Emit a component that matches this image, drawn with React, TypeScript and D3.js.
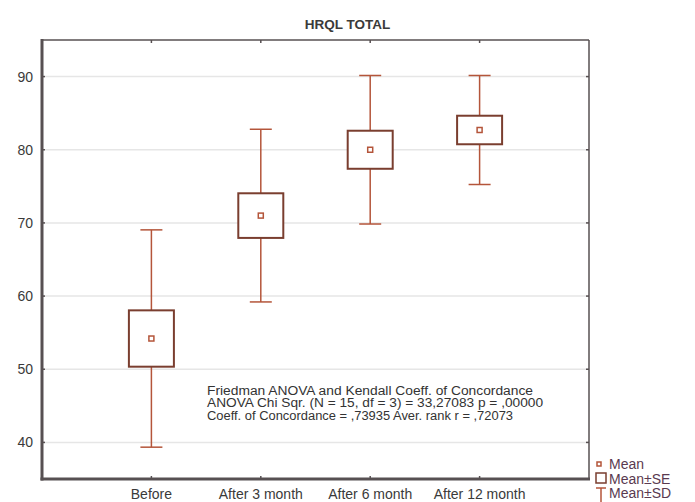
import React from "react";
import * as d3 from "d3";

// HRQL total score per follow-up point: mean, standard error and standard deviation
const categories = ["Before", "After 3 month", "After 6 month", "After 12 month"];
const means = [54.2, 71.0, 80.0, 82.7];
const standardErrors = [3.85, 3.05, 2.6, 1.95];
const standardDeviations = [14.85, 11.8, 10.15, 7.45];
const yTicks = [40, 50, 60, 70, 80, 90];

const statsLines = [
  "Friedman ANOVA and Kendall Coeff. of Concordance",
  "ANOVA Chi Sqr. (N = 15, df = 3) = 33,27083 p = ,00000",
  "Coeff. of Concordance = ,73935 Aver. rank r = ,72073",
];
const statsWidths = [326, 336, 306];
const legendItems = ["Mean", "Mean±SE", "Mean±SD"];

const W = 695;
const H = 502;
const plot = { left: 42, right: 589, top: 40, bottom: 479 };

const BOX = "#7a3e2f";
const WHISKER = "#b4553a";
const AXIS = "#575052";
const GRID = "#e6e6e6";
const FONT = "'Liberation Sans', Arial, sans-serif";

export default function App() {
  const x = d3.scaleLinear().domain([0, categories.length + 1]).range([plot.left, plot.right]);
  const y = d3.scaleLinear().domain([35, 95]).range([plot.bottom, plot.top]);

  const boxW = 45;
  const capW = 22;
  const meanSize = 5;

  return (
    <svg
      width={W}
      height={H}
      style={{ position: "absolute", left: 0, top: 0, background: "#fff" }}
      fontFamily={FONT}
    >
      {/* title */}
      <text x={347.5} y={29} textAnchor="middle" fontSize={13.5} fontWeight="bold" fill="#3a3a3a">
        HRQL TOTAL
      </text>

      {/* gridlines */}
      {yTicks.map((t) => (
        <line key={"g" + t} x1={plot.left} x2={plot.right} y1={y(t)} y2={y(t)} stroke={GRID} strokeWidth={1.5} />
      ))}

      {/* frame: thin top/right, heavy left/bottom axes */}
      <line x1={plot.left} x2={plot.right} y1={plot.top} y2={plot.top} stroke={AXIS} strokeWidth={1.5} />
      <line x1={plot.right} x2={plot.right} y1={plot.top} y2={plot.bottom} stroke={AXIS} strokeWidth={1.5} />
      <line x1={plot.left} x2={plot.left} y1={plot.top - 1} y2={plot.bottom + 1.5} stroke={AXIS} strokeWidth={3} />
      <line x1={plot.left - 1.5} x2={plot.right + 1} y1={plot.bottom} y2={plot.bottom} stroke={AXIS} strokeWidth={3} />

      {/* y ticks + labels */}
      {yTicks.map((t) => (
        <g key={"t" + t}>
          <line x1={plot.left} x2={plot.left + 3} y1={y(t)} y2={y(t)} stroke={AXIS} strokeWidth={1.5} />
          <line x1={plot.right} x2={plot.right - 3} y1={y(t)} y2={y(t)} stroke={AXIS} strokeWidth={1.5} />
          <text x={33} y={y(t)} dy="0.36em" textAnchor="end" fontSize={14} fill="#3a3a3a">
            {t}
          </text>
        </g>
      ))}

      {/* x ticks + labels */}
      {categories.map((c, i) => (
        <g key={"x" + c}>
          <line x1={x(i + 1)} x2={x(i + 1)} y1={plot.top} y2={plot.top + 3} stroke={AXIS} strokeWidth={1.5} />
          <line x1={x(i + 1)} x2={x(i + 1)} y1={plot.bottom} y2={plot.bottom - 3} stroke={AXIS} strokeWidth={1.5} />
          <text x={x(i + 1)} y={499} textAnchor="middle" fontSize={14} fill="#3a3a3a">
            {c}
          </text>
        </g>
      ))}

      {/* whiskers (mean ± SD) */}
      {means.map((m, i) => {
        const cx = x(i + 1);
        const hi = m + standardDeviations[i];
        const lo = m - standardDeviations[i];
        return (
          <g key={"w" + i} stroke={WHISKER} strokeWidth={1.5}>
            <line x1={cx} x2={cx} y1={y(hi)} y2={y(lo)} />
            <line x1={cx - capW / 2} x2={cx + capW / 2} y1={y(hi)} y2={y(hi)} />
            <line x1={cx - capW / 2} x2={cx + capW / 2} y1={y(lo)} y2={y(lo)} />
          </g>
        );
      })}

      {/* boxes (mean ± SE) */}
      {means.map((m, i) => {
        const cx = x(i + 1);
        const hi = m + standardErrors[i];
        const lo = m - standardErrors[i];
        return (
          <rect
            key={"b" + i}
            x={cx - boxW / 2}
            y={y(hi)}
            width={boxW}
            height={y(lo) - y(hi)}
            fill="#fff"
            stroke={BOX}
            strokeWidth={2}
          />
        );
      })}

      {/* mean markers */}
      {means.map((m, i) => (
        <rect
          key={"m" + i}
          x={x(i + 1) - meanSize / 2}
          y={y(m) - meanSize / 2}
          width={meanSize}
          height={meanSize}
          fill="#fff"
          stroke={WHISKER}
          strokeWidth={1.5}
        />
      ))}

      {/* test statistics */}
      <g fontSize={12.5} fill="#333">
        {statsLines.map((s, i) => (
          <text
            key={"s" + i}
            x={207}
            y={394.5 + i * 12.5}
            textLength={statsWidths[i]}
            lengthAdjust="spacingAndGlyphs"
          >
            {s}
          </text>
        ))}
      </g>

      {/* legend */}
      <g fontSize={14} fill="#5a3a50">
        <rect x={597} y={462} width={4} height={4} fill="#fff" stroke={WHISKER} strokeWidth={1.5} />
        <rect x={596} y={473} width={10} height={10} fill="#fff" stroke={BOX} strokeWidth={1.5} />
        <g stroke={WHISKER} strokeWidth={1.5}>
          <line x1={596} x2={606} y1={488} y2={488} />
          <line x1={601} x2={601} y1={488} y2={502} />
        </g>
        {legendItems.map((l, i) => (
          <text key={"l" + i} x={609} y={469 + i * 14.7}>
            {l}
          </text>
        ))}
      </g>
    </svg>
  );
}
